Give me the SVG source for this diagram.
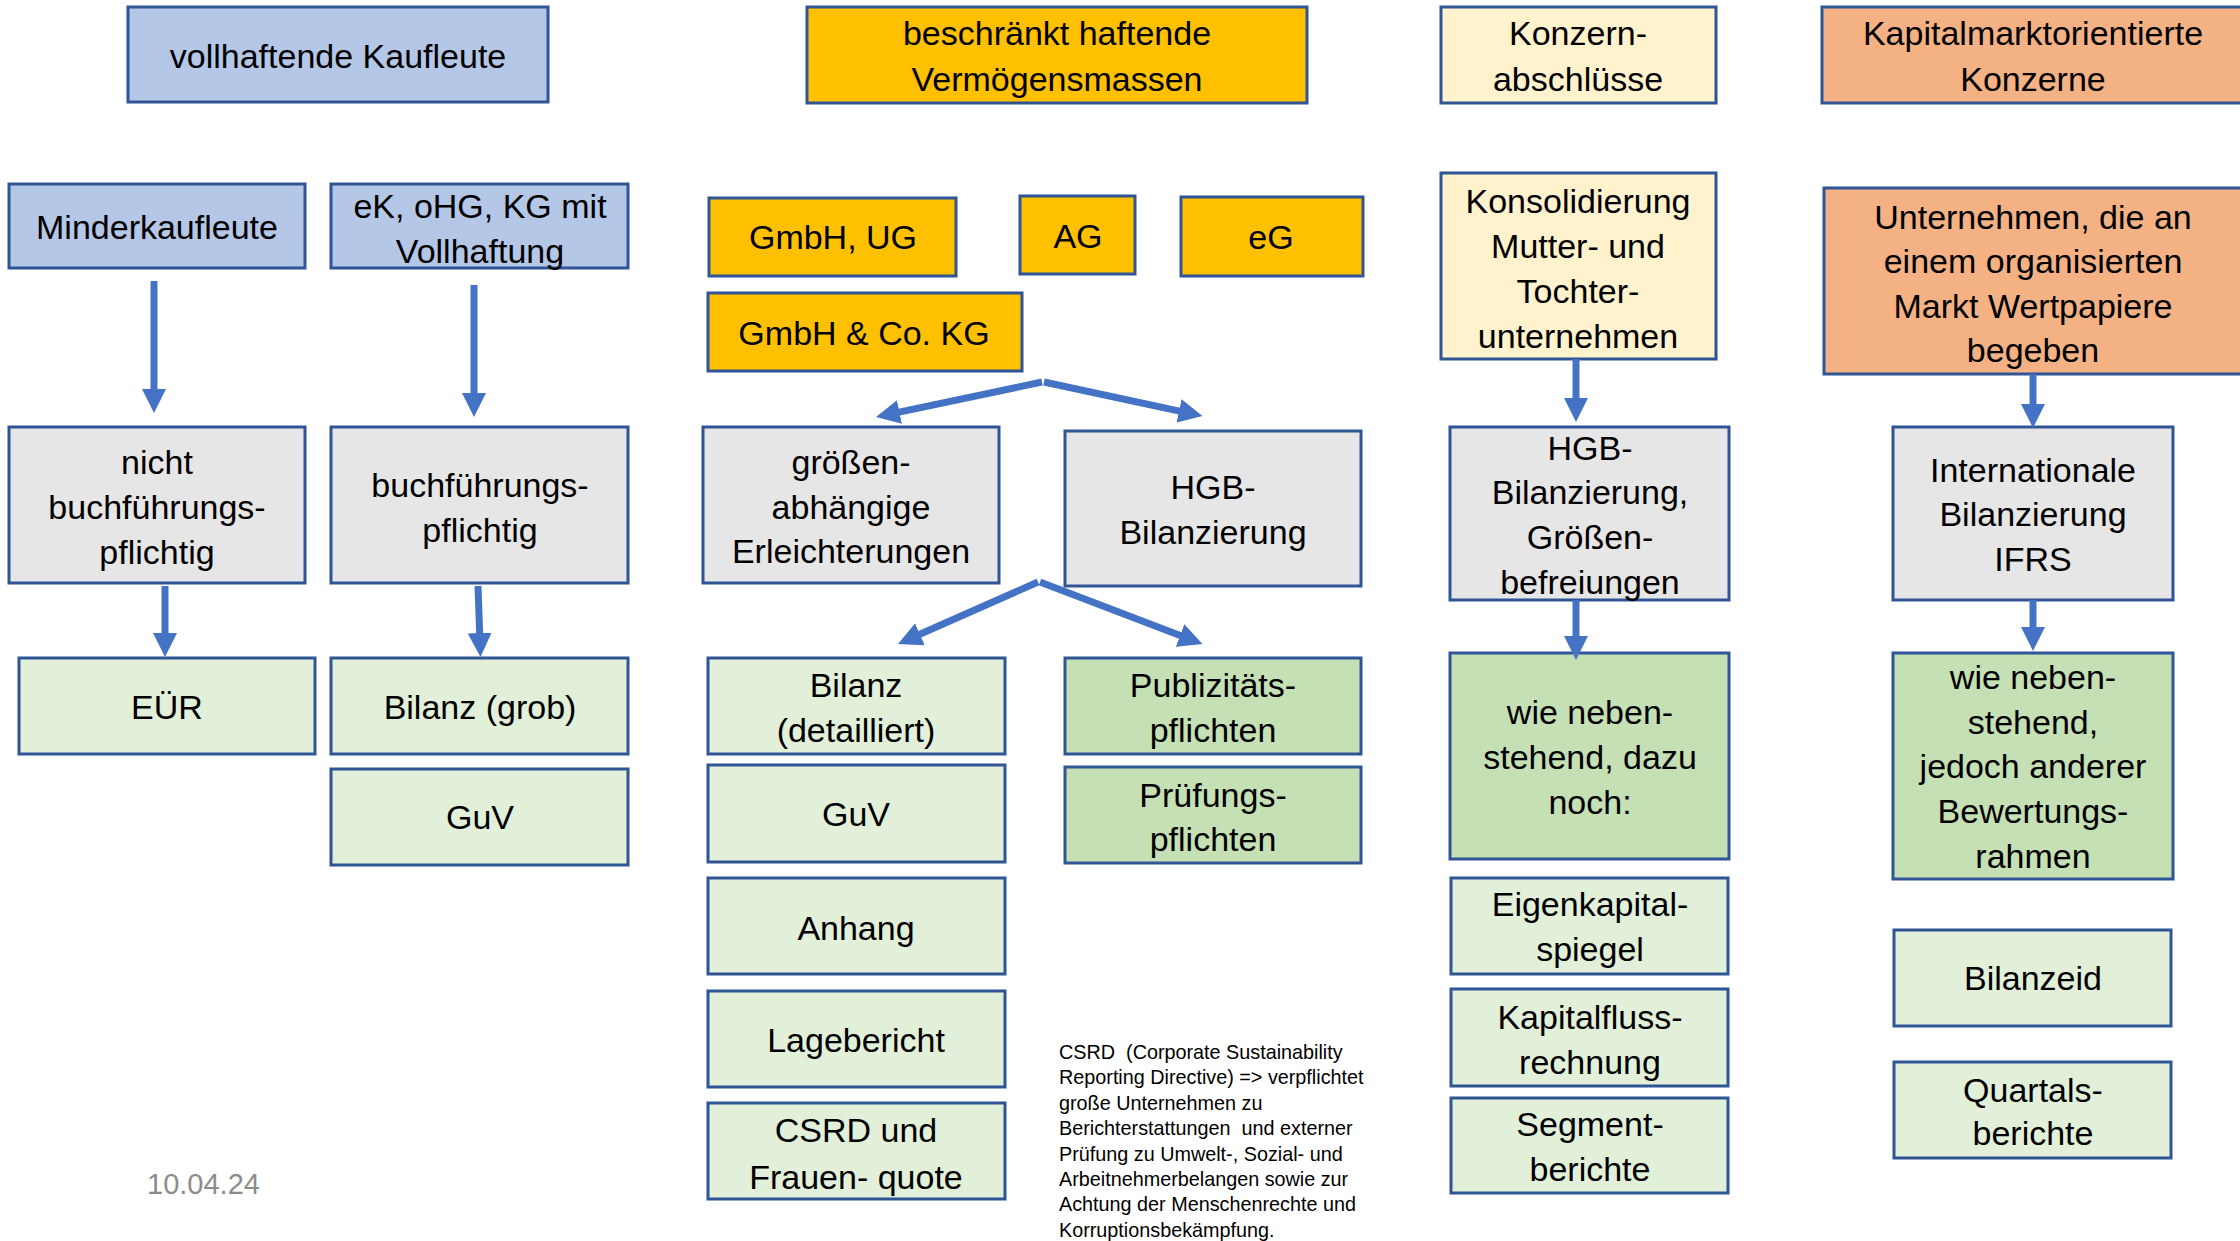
<svg xmlns="http://www.w3.org/2000/svg" width="2240" height="1241" viewBox="0 0 2240 1241">
<style>
rect{stroke:#2F5597;stroke-width:3}
.blue{fill:#B4C7E7}.grey{fill:#E7E6E6}.lg{fill:#E2F0D9}.dg{fill:#C5E0B4}.gold{fill:#FFC000}.cream{fill:#FFF2CC}.orange{fill:#F4B183}
text{font-family:"Liberation Sans",Arial,sans-serif;font-size:34px;fill:#000;text-anchor:middle}
.note{font-size:19.8px;text-anchor:start}
.date{font-size:29px;fill:#8C8C8C;text-anchor:start}
.conn line{stroke:#4472C4;stroke-width:7;marker-end:url(#ah)}
</style>
<defs>
<marker id="ah" markerUnits="userSpaceOnUse" markerWidth="24" markerHeight="24" refX="10" refY="12" orient="auto">
<path d="M0,0 L24,12 L0,24 Z" fill="#4472C4"/>
</marker>
</defs>
<rect x="-10" y="-10" width="2260" height="1261" style="fill:#fff;stroke:none"/>

<g id="n1"><rect class="blue" x="128" y="7" width="420" height="95"/><text x="338" y="68">vollhaftende Kaufleute</text></g>
<g id="n2"><rect class="blue" x="9" y="184" width="296" height="84"/><text x="157" y="239">Minderkaufleute</text></g>
<g id="n3"><rect class="blue" x="331" y="184" width="297" height="84"/><text x="480" y="218">eK, oHG, KG mit</text><text x="480" y="263">Vollhaftung</text></g>
<g id="n4"><rect class="grey" x="9" y="427" width="296" height="156"/><text x="157" y="474">nicht</text><text x="157" y="519">buchführungs-</text><text x="157" y="564">pflichtig</text></g>
<g id="n5"><rect class="grey" x="331" y="427" width="297" height="156"/><text x="480" y="497">buchführungs-</text><text x="480" y="542">pflichtig</text></g>
<g id="n6"><rect class="lg" x="19" y="658" width="296" height="96"/><text x="167" y="719">EÜR</text></g>
<g id="n7"><rect class="lg" x="331" y="658" width="297" height="96"/><text x="480" y="719">Bilanz (grob)</text></g>
<g id="n8"><rect class="lg" x="331" y="769" width="297" height="96"/><text x="480" y="829">GuV</text></g>

<g id="n9"><rect class="gold" x="807" y="7" width="500" height="96"/><text x="1057" y="45">beschränkt haftende</text><text x="1057" y="91">Vermögensmassen</text></g>
<g id="n10"><rect class="gold" x="709" y="198" width="247" height="78"/><text x="833" y="249">GmbH, UG</text></g>
<g id="n11"><rect class="gold" x="1020" y="196" width="115" height="78"/><text x="1078" y="248">AG</text></g>
<g id="n12"><rect class="gold" x="1181" y="197" width="182" height="79"/><text x="1271" y="249">eG</text></g>
<g id="n13"><rect class="gold" x="708" y="293" width="314" height="78"/><text x="864" y="345">GmbH &amp; Co. KG</text></g>
<g id="n14"><rect class="grey" x="703" y="427" width="296" height="156"/><text x="851" y="474">größen-</text><text x="851" y="519">abhängige</text><text x="851" y="563">Erleichterungen</text></g>
<g id="n15"><rect class="grey" x="1065" y="431" width="296" height="155"/><text x="1213" y="499">HGB-</text><text x="1213" y="544">Bilanzierung</text></g>
<g id="n16"><rect class="lg" x="708" y="658" width="297" height="96"/><text x="856" y="697">Bilanz</text><text x="856" y="742">(detailliert)</text></g>
<g id="n17"><rect class="dg" x="1065" y="658" width="296" height="96"/><text x="1213" y="697">Publizitäts-</text><text x="1213" y="742">pflichten</text></g>
<g id="n18"><rect class="lg" x="708" y="765" width="297" height="97"/><text x="856" y="826">GuV</text></g>
<g id="n19"><rect class="dg" x="1065" y="767" width="296" height="96"/><text x="1213" y="807">Prüfungs-</text><text x="1213" y="851">pflichten</text></g>
<g id="n20"><rect class="lg" x="708" y="878" width="297" height="96"/><text x="856" y="940">Anhang</text></g>
<g id="n21"><rect class="lg" x="708" y="991" width="297" height="96"/><text x="856" y="1052">Lagebericht</text></g>
<g id="n22"><rect class="lg" x="708" y="1103" width="297" height="96"/><text x="856" y="1142">CSRD und</text><text x="856" y="1189">Frauen- quote</text></g>

<g id="n23"><rect class="cream" x="1441" y="7" width="275" height="96"/><text x="1578" y="45">Konzern-</text><text x="1578" y="91">abschlüsse</text></g>
<g id="n24"><rect class="cream" x="1441" y="173" width="275" height="186"/><text x="1578" y="213">Konsolidierung</text><text x="1578" y="258">Mutter- und</text><text x="1578" y="303">Tochter-</text><text x="1578" y="348">unternehmen</text></g>
<g id="n25"><rect class="grey" x="1450" y="427" width="279" height="173"/><text x="1590" y="460">HGB-</text><text x="1590" y="504">Bilanzierung,</text><text x="1590" y="549">Größen-</text><text x="1590" y="594">befreiungen</text></g>
<g id="n26"><rect class="dg" x="1450" y="653" width="279" height="206"/><text x="1590" y="724">wie neben-</text><text x="1590" y="769">stehend, dazu</text><text x="1590" y="814">noch:</text></g>
<g id="n27"><rect class="lg" x="1451" y="878" width="277" height="96"/><text x="1590" y="916">Eigenkapital-</text><text x="1590" y="961">spiegel</text></g>
<g id="n28"><rect class="lg" x="1451" y="989" width="277" height="97"/><text x="1590" y="1029">Kapitalfluss-</text><text x="1590" y="1074">rechnung</text></g>
<g id="n29"><rect class="lg" x="1451" y="1098" width="277" height="95"/><text x="1590" y="1136">Segment-</text><text x="1590" y="1181">berichte</text></g>

<g id="n30"><rect class="orange" x="1822" y="7" width="422" height="96"/><text x="2033" y="45">Kapitalmarktorientierte</text><text x="2033" y="91">Konzerne</text></g>
<g id="n31"><rect class="orange" x="1824" y="188" width="420" height="186"/><text x="2033" y="229">Unternehmen, die an</text><text x="2033" y="273">einem organisierten</text><text x="2033" y="318">Markt Wertpapiere</text><text x="2033" y="362">begeben</text></g>
<g id="n32"><rect class="grey" x="1893" y="427" width="280" height="173"/><text x="2033" y="482">Internationale</text><text x="2033" y="526">Bilanzierung</text><text x="2033" y="571">IFRS</text></g>
<g id="n33"><rect class="dg" x="1893" y="653" width="280" height="226"/><text x="2033" y="689">wie neben-</text><text x="2033" y="734">stehend,</text><text x="2033" y="778">jedoch anderer</text><text x="2033" y="823">Bewertungs-</text><text x="2033" y="868">rahmen</text></g>
<g id="n34"><rect class="lg" x="1894" y="930" width="277" height="96"/><text x="2033" y="990">Bilanzeid</text></g>
<g id="n35"><rect class="lg" x="1894" y="1062" width="277" height="96"/><text x="2033" y="1102">Quartals-</text><text x="2033" y="1145">berichte</text></g>

<g id="connectors" class="conn">
<line x1="154" y1="281" x2="154" y2="399"/>
<line x1="474" y1="285" x2="474" y2="403"/>
<line x1="165" y1="586" x2="165" y2="643"/>
<line x1="478" y1="586" x2="480" y2="643"/>
<line x1="1042" y1="382" x2="889.7" y2="414.1"/>
<line x1="1044" y1="382" x2="1188.8" y2="413.1"/>
<line x1="1038" y1="582" x2="910.8" y2="638.3"/>
<line x1="1040" y1="582" x2="1189.4" y2="639.1"/>
<line x1="1576" y1="359" x2="1576" y2="408"/>
<line x1="1576" y1="600" x2="1576" y2="646"/>
<line x1="2033" y1="374" x2="2033" y2="414"/>
<line x1="2033" y1="600" x2="2033" y2="637"/>
</g>

<text class="note" x="1059" y="1059" xml:space="preserve">CSRD  (Corporate Sustainability</text>
<text class="note" x="1059" y="1084">Reporting Directive) =&gt; verpflichtet</text>
<text class="note" x="1059" y="1110">große Unternehmen zu</text>
<text class="note" x="1059" y="1135" xml:space="preserve">Berichterstattungen  und externer</text>
<text class="note" x="1059" y="1161">Prüfung zu Umwelt-, Sozial- und</text>
<text class="note" x="1059" y="1186">Arbeitnehmerbelangen sowie zur</text>
<text class="note" x="1059" y="1211">Achtung der Menschenrechte und</text>
<text class="note" x="1059" y="1237">Korruptionsbekämpfung.</text>
<text class="date" x="147" y="1194">10.04.24</text>
</svg>
